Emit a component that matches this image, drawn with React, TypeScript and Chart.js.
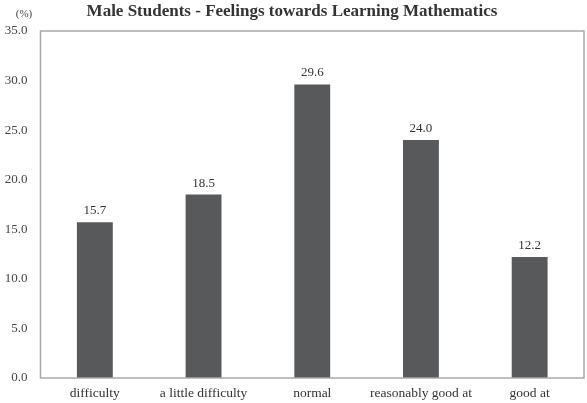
import React, { useEffect, useRef } from "react";
import { Chart, registerables } from "chart.js";

Chart.register(...registerables);

const categories = ["difficulty", "a little difficulty", "normal", "reasonably good at", "good at"];
const values = [15.7, 18.5, 29.6, 24.0, 12.2];
const yTicks = [0, 5, 10, 15, 20, 25, 30, 35];
const titleText = "Male Students - Feelings towards Learning Mathematics";
const unitText = "(%)";

const SERIF = '"Liberation Serif", "Times New Roman", serif';

export default function App() {
  const ref = useRef<HTMLCanvasElement | null>(null);

  useEffect(() => {
    document.body.style.margin = "0";
    const canvas = ref.current;
    if (!canvas) return;

    const framePlugin = {
      id: "frameAndLabels",
      afterDatasetsDraw(chart: any) {
        const { ctx, chartArea } = chart;
        ctx.save();
        ctx.strokeStyle = "#a9a9a9";
        ctx.lineWidth = 1.5;
        ctx.strokeRect(chartArea.left, chartArea.top, chartArea.right - chartArea.left, chartArea.bottom - chartArea.top);
        // value labels
        const meta = chart.getDatasetMeta(0);
        ctx.fillStyle = "#333333";
        ctx.font = `13px ${SERIF}`;
        ctx.textAlign = "center";
        ctx.textBaseline = "bottom";
        meta.data.forEach((el: any, i: number) => {
          ctx.fillText(values[i].toFixed(1), el.x, el.y - 5);
        });
        // unit label
        ctx.font = `11px ${SERIF}`;
        ctx.fillStyle = "#444444";
        ctx.textAlign = "center";
        ctx.textBaseline = "middle";
        ctx.fillText(unitText, 24, 14);
        ctx.restore();
      },
    };

    const chart = new Chart(canvas, {
      type: "bar",
      data: {
        labels: categories,
        datasets: [
          {
            data: values,
            backgroundColor: "#58595b",
            borderWidth: 0,
            barPercentage: 0.33,
            categoryPercentage: 1,
          },
        ],
      },
      options: {
        animation: false,
        responsive: false,
        maintainAspectRatio: false,
        layout: { padding: { left: 0, right: 3, top: 0, bottom: 0 } },
        plugins: {
          legend: { display: false },
          tooltip: { enabled: false },
          title: {
            display: true,
            text: titleText,
            color: "#333333",
            font: { family: SERIF, size: 17, weight: "bold" },
            padding: { top: 1, bottom: 9.6 },
          },
        },
        scales: {
          x: {
            grid: { display: false, drawTicks: false },
            border: { display: false },
            ticks: {
              color: "#333333",
              font: { family: SERIF, size: 13.5 },
              padding: 7,
              maxRotation: 0,
              autoSkip: false,
            },
            afterFit(scale: any) {
              scale.height = 25;
            },
          },
          y: {
            min: 0,
            max: 35,
            afterBuildTicks(scale: any) {
              scale.ticks = yTicks.map((v) => ({ value: v }));
            },
            grid: { display: false, drawTicks: false },
            border: { display: false },
            ticks: {
              color: "#444444",
              font: { family: SERIF, size: 13 },
              padding: 13,
              callback: (v: any) => Number(v).toFixed(1),
            },
            afterFit(scale: any) {
              scale.width = 40.5;
            },
          },
        },
      },
      plugins: [framePlugin],
    });

    return () => chart.destroy();
  }, []);

  return (
    <div style={{ position: "absolute", left: 0, top: 0, width: 587, height: 403, background: "#ffffff" }}>
      <canvas ref={ref} width={587} height={403} style={{ display: "block", width: 587, height: 403 }} />
    </div>
  );
}
